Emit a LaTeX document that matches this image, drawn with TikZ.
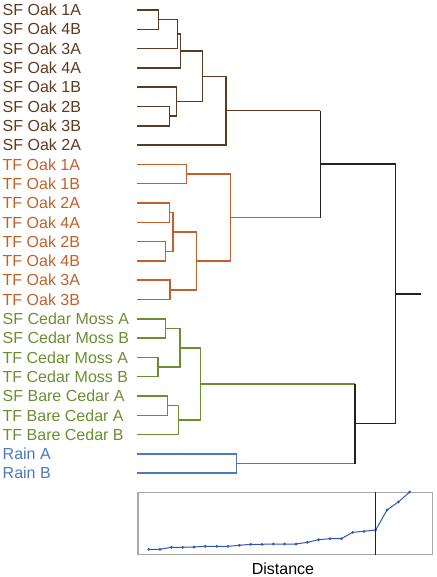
\documentclass[tikz,border=0pt]{standalone}
\usepackage{fontspec}
\setmainfont{Liberation Sans}
\definecolor{sfc}{HTML}{5E3A1E}
\definecolor{tfc}{HTML}{C0612B}
\definecolor{cdc}{HTML}{6A8F32}
\definecolor{rnc}{HTML}{4A78C2}
\definecolor{blk}{HTML}{222222}
\definecolor{framec}{HTML}{A8A8A8}
\definecolor{curvec}{HTML}{2F56B0}
\begin{document}
\begin{tikzpicture}[x=1pt,y=-1pt,
  lbl/.style={anchor=base west, inner sep=0pt, font=\fontsize{16}{19}\selectfont},
  br/.style={line width=1.5pt}]
\useasboundingbox (0,0) rectangle (436,577);
% labels
\node[lbl,text=sfc] (n0) at (2.5,15.7) {SF Oak 1A};
\node[lbl,text=sfc] (n1) at (2.5,35.0) {SF Oak 4B};
\node[lbl,text=sfc] (n2) at (2.5,54.3) {SF Oak 3A};
\node[lbl,text=sfc] (n3) at (2.5,73.6) {SF Oak 4A};
\node[lbl,text=sfc] (n4) at (2.5,92.9) {SF Oak 1B};
\node[lbl,text=sfc] (n5) at (2.5,112.2) {SF Oak 2B};
\node[lbl,text=sfc] (n6) at (2.5,131.5) {SF Oak 3B};
\node[lbl,text=sfc] (n7) at (2.5,150.8) {SF Oak 2A};
\node[lbl,text=tfc] (n8) at (2.5,170.1) {TF Oak 1A};
\node[lbl,text=tfc] (n9) at (2.5,189.4) {TF Oak 1B};
\node[lbl,text=tfc] (n10) at (2.5,208.7) {TF Oak 2A};
\node[lbl,text=tfc] (n11) at (2.5,228.0) {TF Oak 4A};
\node[lbl,text=tfc] (n12) at (2.5,247.3) {TF Oak 2B};
\node[lbl,text=tfc] (n13) at (2.5,266.6) {TF Oak 4B};
\node[lbl,text=tfc] (n14) at (2.5,285.9) {TF Oak 3A};
\node[lbl,text=tfc] (n15) at (2.5,305.2) {TF Oak 3B};
\node[lbl,text=cdc] (n16) at (2.5,324.5) {SF Cedar Moss A};
\node[lbl,text=cdc] (n17) at (2.5,343.8) {SF Cedar Moss B};
\node[lbl,text=cdc] (n18) at (2.5,363.1) {TF Cedar Moss A};
\node[lbl,text=cdc] (n19) at (2.5,382.4) {TF Cedar Moss B};
\node[lbl,text=cdc] (n20) at (2.5,401.7) {SF Bare Cedar A};
\node[lbl,text=cdc] (n21) at (2.5,421.0) {TF Bare Cedar A};
\node[lbl,text=cdc] (n22) at (2.5,440.3) {TF Bare Cedar B};
\node[lbl,text=rnc] (n23) at (2.5,459.6) {Rain A};
\node[lbl,text=rnc] (n24) at (2.5,478.9) {Rain B};
% leaf ends
\foreach \i/\y in {0/10,1/29.3,2/48.6,3/67.9,4/87.2,5/106.5,6/125.8,7/145.1,8/164.4,9/183.7,10/203,11/222.3,12/241.6,13/260.9,14/280.2,15/299.5,16/318.8,17/338.1,18/357.4,19/376.7,20/396,21/415.3,22/434.6,23/453.9,24/473.2}
  \coordinate (l\i) at (137.3,\y);
% internal nodes
\coordinate (s1) at (158.3,19.65);
\coordinate (s2) at (177.7,34.1);
\coordinate (s3) at (180.7,51.0);
\coordinate (s4) at (169.3,116.15);
\coordinate (s5) at (176.7,101.7);
\coordinate (s6) at (202.3,76.35);
\coordinate (s7) at (226,110.7);
\coordinate (t1) at (186.3,174.05);
\coordinate (t2) at (169.7,212.65);
\coordinate (t3) at (165.7,251.25);
\coordinate (t4) at (173,231.95);
\coordinate (t5) at (170,289.85);
\coordinate (t6) at (196.3,260.9);
\coordinate (t7) at (230.3,217.5);
\coordinate (o) at (320.3,164.1);
\coordinate (c1) at (165.3,328.45);
\coordinate (c2) at (158,367.05);
\coordinate (c3) at (180,347.75);
\coordinate (c4) at (167.3,405.65);
\coordinate (c5) at (178.7,420.1);
\coordinate (c6) at (200.7,383.9);
\coordinate (r1) at (236.7,463.55);
\coordinate (cr) at (355,423.7);
\coordinate (root) at (395.3,293.9);
\coordinate (rootend) at (421,293.9);
% SF oak
\draw[br,sfc] (l0) -| (s1) (l1) -| (s1);
\draw[br,sfc] (s1) -| (s2) (l2) -| (s2);
\draw[br,sfc] (s2) -| (s3) (l3) -| (s3);
\draw[br,sfc] (l5) -| (s4) (l6) -| (s4);
\draw[br,sfc] (l4) -| (s5) (s4) -| (s5);
\draw[br,sfc] (s3) -| (s6) (s5) -| (s6);
\draw[br,sfc] (s6) -| (s7) (l7) -| (s7);
% TF oak
\draw[br,tfc] (l8) -| (t1) (l9) -| (t1);
\draw[br,tfc] (l10) -| (t2) (l11) -| (t2);
\draw[br,tfc] (l12) -| (t3) (l13) -| (t3);
\draw[br,tfc] (t2) -| (t4) (t3) -| (t4);
\draw[br,tfc] (l14) -| (t5) (l15) -| (t5);
\draw[br,tfc] (t4) -| (t6) (t5) -| (t6);
\draw[br,tfc] (t1) -| (t7) (t6) -| (t7);
% cedar
\draw[br,cdc] (l16) -| (c1) (l17) -| (c1);
\draw[br,cdc] (l18) -| (c2) (l19) -| (c2);
\draw[br,cdc] (c1) -| (c3) (c2) -| (c3);
\draw[br,cdc] (l20) -| (c4) (l21) -| (c4);
\draw[br,cdc] (c4) -| (c5) (l22) -| (c5);
\draw[br,cdc] (c3) -| (c6) (c5) -| (c6);
% rain
\draw[br,rnc] (l23) -| (r1) (l24) -| (r1);
% upper merges
\draw[br,sfc] (s7) -- (s7 -| o);
\draw[br,tfc] (t7) -- (t7 -| o);
\draw[br,blk] (s7 -| o) -- (t7 -| o);
\draw[br,cdc] (c6) -- (c6 -| cr);
\draw[br,rnc] (r1) -- (r1 -| cr);
\draw[br,blk] (c6 -| cr) -- (r1 -| cr);
\draw[br,blk] (o) -| (root) (cr) -| (root);
\draw[br,blk] (root) -- (rootend);
% inset
\node[draw=framec, line width=1.2pt, inner sep=0pt, minimum width=294.7pt, minimum height=62pt, anchor=north west] (inset) at (137.3,492) {};
\draw[curvec, line width=1pt, mark=*, mark size=0.8pt, mark options={fill=curvec}] plot coordinates {(148.7,549.3)(160,549.3)(171.3,547.3)(182.7,547.3)(194,547)(205.3,546.3)(216.7,546.3)(228,546.3)(239.3,545.3)(250.7,544.3)(262,544.3)(273.3,544)(284.7,544)(296,544)(307.3,542.3)(318.7,539.7)(330,538.7)(341.3,538.7)(352.7,532.3)(364,531.3)(375.7,530)(387,510)(398.3,502)(409.7,492)};
\coordinate (cut) at (375.7,523);
\draw[blk, line width=1.4pt] (inset.north -| cut) -- (inset.south -| cut);
\node[anchor=base, inner sep=0pt, font=\fontsize{16}{19}\selectfont] (dist) at (283,574) {Distance};
\end{tikzpicture}
\end{document}
